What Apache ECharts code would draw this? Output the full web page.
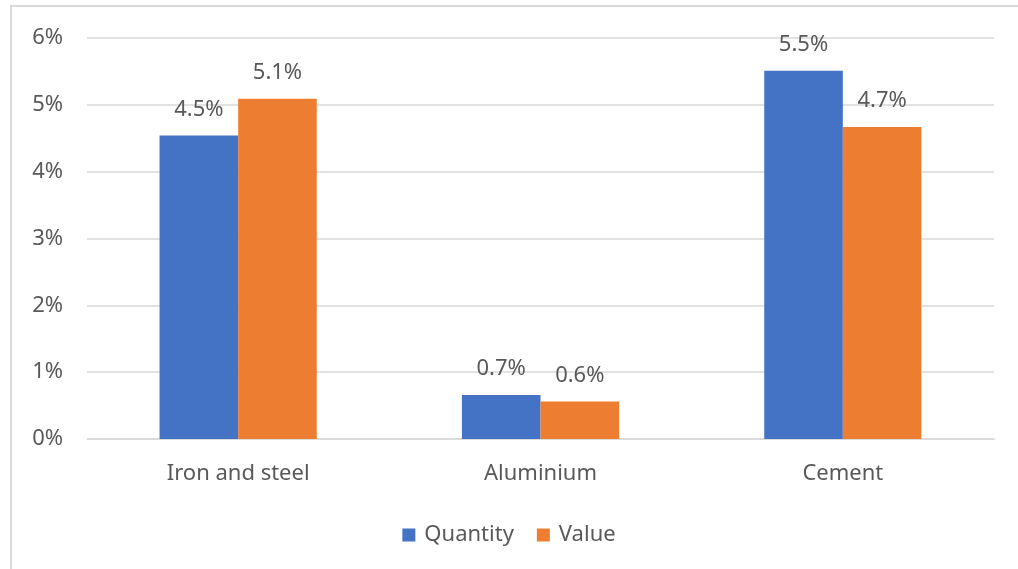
<!DOCTYPE html>
<html>
<head>
<meta charset="utf-8">
<script src="https://cdn.jsdelivr.net/npm/echarts@6/dist/echarts.min.js"></script>
<style>
  html, body { margin: 0; padding: 0; background: #fff; }
  #chart { width: 1018px; height: 569px; }
</style>
</head>
<body>
<div id="chart"></div>
<script>
var categories = ['Iron and steel', 'Aluminium', 'Cement'];
var quantity = [4.54, 0.66, 5.51];
var value = [5.09, 0.56, 4.67];

var font = '"Noto Sans", "Open Sans", sans-serif';
var textColor = '#595959';

var labelOpt = {
	show: true,
	position: 'top',
	distance: 15,
	color: textColor,
	fontFamily: font,
	fontSize: 22,
	formatter: function (p) { return p.value.toFixed(1) + '%'; }
};

var option = {
	backgroundColor: '#fff',
	animation: false,
	graphic: [{
		type: 'rect',
		shape: { x: 11, y: 6, width: 1020, height: 580 },
		style: { fill: 'none', stroke: '#d9d9d9', lineWidth: 2 },
		silent: true
	}],
	grid: { left: 87, right: 24, top: 38, bottom: 130 },
	legend: {
		data: ['Quantity', 'Value'],
		bottom: 18,
		left: 'center',
		itemWidth: 13,
		itemHeight: 13,
		itemGap: 23,
		icon: 'rect',
		textStyle: { color: textColor, fontFamily: font, fontSize: 22, padding: [0, 0, 0, 4] }
	},
	xAxis: {
		type: 'category',
		data: categories,
		axisLine: { lineStyle: { color: '#d9d9d9', width: 1.5 } },
		axisTick: { show: false },
		axisLabel: { color: textColor, fontFamily: font, fontSize: 22, margin: 24 }
	},
	yAxis: {
		type: 'value',
		min: 0,
		max: 6,
		interval: 1,
		axisLine: { show: false },
		axisTick: { show: false },
		splitLine: { lineStyle: { color: '#d9d9d9', width: 1.5 } },
		axisLabel: {
			color: textColor, fontFamily: font, fontSize: 22, margin: 24,
			formatter: '{value}%'
		}
	},
	series: [
		{
			name: 'Quantity',
			type: 'bar',
			data: quantity,
			barGap: '0%',
			barCategoryGap: '48%',
			itemStyle: { color: '#4472c4' },
			label: labelOpt
		},
		{
			name: 'Value',
			type: 'bar',
			data: value,
			barGap: '0%',
			barCategoryGap: '48%',
			itemStyle: { color: '#ed7d31' },
			label: labelOpt
		}
	]
};

echarts.init(document.getElementById('chart')).setOption(option);
</script>
</body>
</html>
